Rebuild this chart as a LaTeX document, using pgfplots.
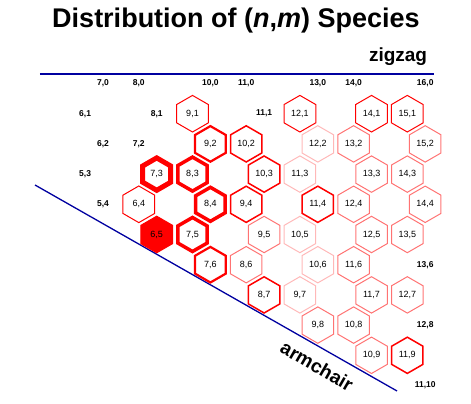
\documentclass[border=0pt]{standalone}
\usepackage{pgfplots}
\pgfplotsset{compat=1.18}
\usepackage{pgfplotstable}
\usepackage{fontspec}
\setmainfont{Liberation Sans}

\definecolor{lineblue}{RGB}{0,0,160}

% pointy-top hexagon marks
\pgfdeclareplotmark{hexagon}{%
  \pgfpathmoveto{\pgfqpointpolar{90}{\pgfplotmarksize}}%
  \pgfpathlineto{\pgfqpointpolar{150}{\pgfplotmarksize}}%
  \pgfpathlineto{\pgfqpointpolar{210}{\pgfplotmarksize}}%
  \pgfpathlineto{\pgfqpointpolar{270}{\pgfplotmarksize}}%
  \pgfpathlineto{\pgfqpointpolar{330}{\pgfplotmarksize}}%
  \pgfpathlineto{\pgfqpointpolar{30}{\pgfplotmarksize}}%
  \pgfpathclose
  \pgfusepathqstroke}
\pgfdeclareplotmark{hexagon*}{%
  \pgfpathmoveto{\pgfqpointpolar{90}{\pgfplotmarksize}}%
  \pgfpathlineto{\pgfqpointpolar{150}{\pgfplotmarksize}}%
  \pgfpathlineto{\pgfqpointpolar{210}{\pgfplotmarksize}}%
  \pgfpathlineto{\pgfqpointpolar{270}{\pgfplotmarksize}}%
  \pgfpathlineto{\pgfqpointpolar{330}{\pgfplotmarksize}}%
  \pgfpathlineto{\pgfqpointpolar{30}{\pgfplotmarksize}}%
  \pgfpathclose
  \pgfusepathqfillstroke}

% x = n + m/2, y = m
\pgfplotstableread{
x y lab
8.5 5 6,5
}\filled
\pgfplotstableread{
x y lab
8.5 3 7,3
}\lvA
\pgfplotstableread{
x y lab
9.5 3 8,3
10 4 8,4
9.5 5 7,5
}\lvB
\pgfplotstableread{
x y lab
10 2 9,2
10 6 7,6
}\lvC
\pgfplotstableread{
x y lab
11 2 10,2
11 4 9,4
11.5 3 10,3
13 4 11,4
15.5 9 11,9
11.5 7 8,7
}\lvD
\pgfplotstableread{
x y lab
9.5 1 9,1
12.5 1 12,1
14.5 1 14,1
15.5 1 15,1
8 4 6,4
}\lvE
\pgfplotstableread{
x y lab
14 2 13,2
16 2 15,2
14.5 3 13,3
15.5 3 14,3
14 4 12,4
16 4 14,4
11.5 5 9,5
14.5 5 12,5
15.5 5 13,5
11 6 8,6
14 6 11,6
14.5 7 11,7
15.5 7 12,7
13 8 9,8
14 8 10,8
14.5 9 10,9
}\lvF
\pgfplotstableread{
x y lab
13 2 12,2
12.5 3 11,3
12.5 5 10,5
13 6 10,6
12.5 7 9,7
}\lvG
\pgfplotstableread{
x y lab
7 0 7,0
8 0 8,0
10 0 10,0
11 0 11,0
13 0 13,0
14 0 14,0
16 0 16,0
6.5 1 6,1
8.5 1 8,1
11.5 1 11,1
7 2 6,2
8 2 7,2
6.5 3 5,3
7 4 5,4
16 6 13,6
16 8 12,8
16 10 11,10
}\outside

\newcommand{\labfont}{\fontsize{9bp}{10bp}\selectfont}

\pgfplotsset{
  hex/.style n args={3}{only marks, mark=hexagon, mark size=#1,
    mark options={draw=#2, line width=#3},
    nodes near coords, point meta=explicit symbolic,
    nodes near coords style={anchor=center, text=black, font=\labfont}},
}

\begin{document}
\begin{tikzpicture}
\begin{axis}[
  scale only axis, width=471bp, height=404bp,
  xmin=4.123, xmax=17.279, ymin=-2.765, ymax=10.613,
  y dir=reverse, hide axis, clip=false,
]
\path (rel axis cs:0,0) rectangle (rel axis cs:1,1);

\addplot[color=lineblue, line width=1.3bp] coordinates {(5.24,-0.315) (16.246,-0.315)};
\addplot[color=lineblue, line width=1.3bp] coordinates {(5.101,3.361) (15.212,10.182)};

\addplot[hex={18.2bp}{red!28}{1bp}] table[x=x, y=y, meta=lab] {\lvG};
\addplot[hex={18.2bp}{red!55}{1bp}] table[x=x, y=y, meta=lab] {\lvF};
\addplot[hex={18.3bp}{red}{1bp}] table[x=x, y=y, meta=lab] {\lvE};
\addplot[hex={18.1bp}{red}{1.5bp}] table[x=x, y=y, meta=lab] {\lvD};
\addplot[hex={17.8bp}{red}{2.2bp}] table[x=x, y=y, meta=lab] {\lvC};
\addplot[hex={17.0bp}{red}{3.5bp}] table[x=x, y=y, meta=lab] {\lvB};
\addplot[hex={16.2bp}{red}{5bp}] table[x=x, y=y, meta=lab] {\lvA};
\addplot[only marks, mark=hexagon*, mark size=18.3bp,
  mark options={draw=red, fill=red, line width=1bp},
  nodes near coords, point meta=explicit symbolic,
  nodes near coords style={anchor=center, text=black, font=\labfont}]
  table[x=x, y=y, meta=lab] {\filled};

\addplot[draw=none, mark=none, nodes near coords, point meta=explicit symbolic,
  nodes near coords style={anchor=center, text=black, font=\fontsize{8.5bp}{10bp}\selectfont\bfseries}]
  table[x=x, y=y, meta=lab] {\outside};

\node[anchor=base, font=\fontsize{27bp}{31bp}\selectfont\bfseries]
  at (axis cs:10.715,-1.838) {Distribution of (\textit{n},\textit{m}) Species};
\node[anchor=base east, font=\fontsize{19bp}{22bp}\selectfont\bfseries]
  at (axis cs:16.15,-0.712) {zigzag};
\node[anchor=center, rotate=-30, font=\fontsize{19bp}{22bp}\selectfont\bfseries]
  at (axis cs:12.978,9.354) {armchair};
\end{axis}
\end{tikzpicture}
\end{document}
